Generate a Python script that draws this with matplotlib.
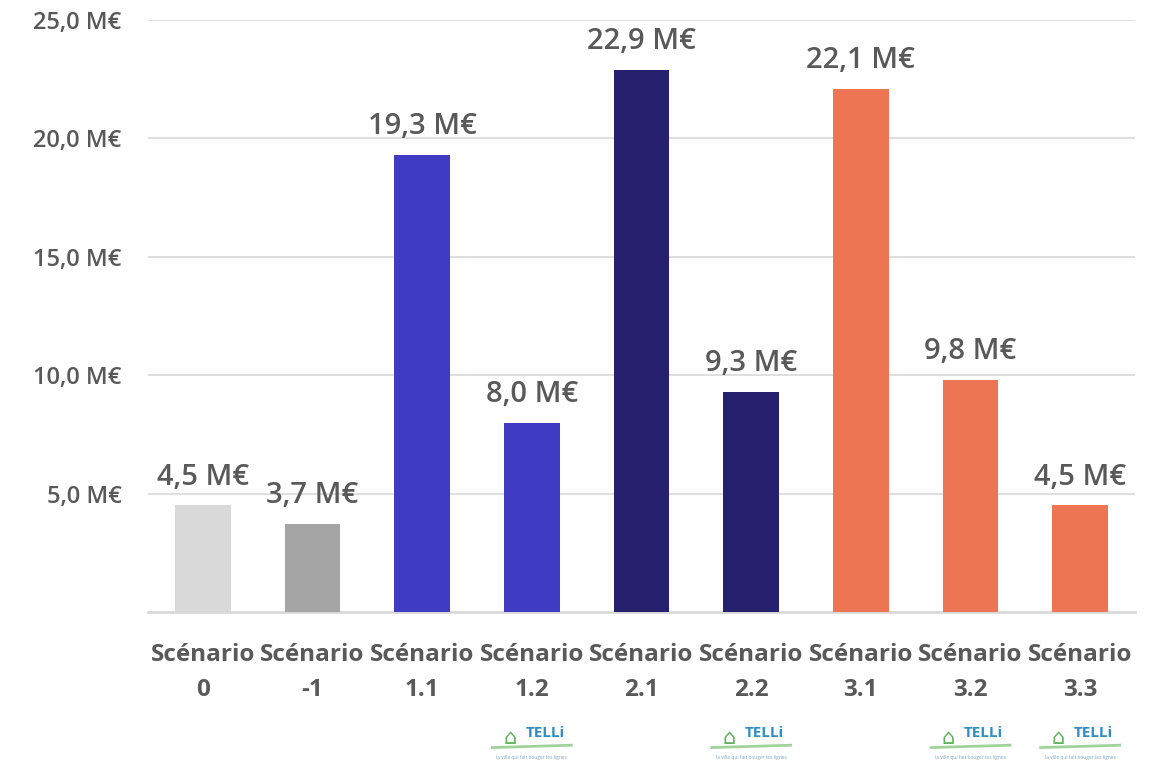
import matplotlib.pyplot as plt

categories = ["Scénario\n0", "Scénario\n-1", "Scénario\n1.1", "Scénario\n1.2", "Scénario\n2.1",
              "Scénario\n2.2", "Scénario\n3.1", "Scénario\n3.2", "Scénario\n3.3"]
values = [4.5, 3.7, 19.3, 8.0, 22.9, 9.3, 22.1, 9.8, 4.5]
colors = ["#d9d9d9", "#a5a5a5", "#403bc3", "#403bc3", "#27206f",
          "#27206f", "#ee7554", "#ee7554", "#ee7554"]
telli_marked = [3, 5, 7, 8]
yticks = [5, 10, 15, 20, 25]

plt.rcParams['font.family'] = ['Open Sans', 'DejaVu Sans']
text_color = "#595959"

fig = plt.figure(figsize=(11.56, 7.73), dpi=100)
ax = fig.add_axes([148 / 1156, 161 / 773, 987 / 1156, (612 - 20) / 773])

x = range(len(categories))
ax.bar(x, values, width=0.51, color=colors, zorder=3)
ax.set_xlim(-0.5, len(categories) - 0.5)
ax.set_ylim(0, 25)

for xi, v in zip(x, values):
    ax.annotate(f"{v:.1f} M€".replace(".", ","), (xi, v), xytext=(0, 10),
                textcoords="offset points", ha="center", va="bottom",
                fontsize=21, fontweight="semibold", color=text_color, zorder=4)

ax.set_yticks(yticks)
ax.set_yticklabels([f"{t:.1f} M€".replace(".", ",") for t in yticks],
                   fontsize=17, fontweight="semibold", color=text_color)
ax.set_xticks(list(x))
ax.set_xticklabels(categories, fontsize=17.5, fontweight="bold", color=text_color,
                   linespacing=1.65)
ax.tick_params(axis="both", length=0)
ax.tick_params(axis="y", pad=19)
ax.tick_params(axis="x", pad=22)

ax.grid(axis="y", color="#d9d9d9", linewidth=1.2, zorder=0)
for s in ["top", "right", "left"]:
    ax.spines[s].set_visible(False)
ax.spines["bottom"].set_color("#d9d9d9")
ax.spines["bottom"].set_linewidth(2)

# TELLi label below selected scenarios
tr = ax.get_xaxis_transform()
for i in telli_marked:
    ax.text(i + 0.12, -0.205, "TELLi", transform=tr, ha="center", va="center",
            fontsize=11, fontweight="bold", color="#2f8fc4")
    ax.text(i - 0.2, -0.213, "⌂", transform=tr, ha="center", va="center",
            fontsize=15, color="#5db55a")
    ax.plot([i - 0.36, i + 0.36], [-0.229, -0.225], transform=tr, color="#9fd39a",
            linewidth=2, clip_on=False)
    ax.text(i, -0.245, "la ville qui fait bouger les lignes", transform=tr,
            ha="center", va="center", fontsize=3.5, color="#7fa8c8")

fig.savefig("out.png", dpi=100, facecolor="white")
